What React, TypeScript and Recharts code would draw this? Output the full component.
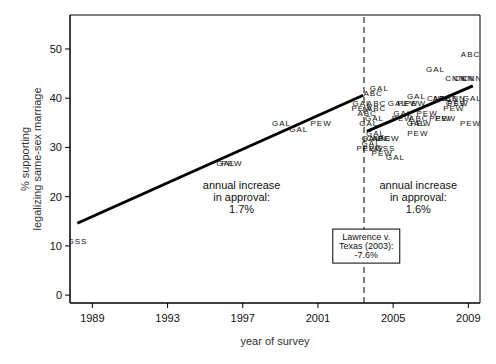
import React from 'react';
import {
  ScatterChart,
  Scatter,
  XAxis,
  YAxis,
  ReferenceLine,
  ReferenceArea,
  ReferenceDot,
} from 'recharts';

const FONT = '"Liberation Sans", Arial, sans-serif';

// Poll labels (pollster), survey year, % supporting
const pollLabels = [
  'GSS', 'GAL', 'PEW', 'GAL', 'GAL', 'PEW',
  'GAL', 'ABC', 'GAL', 'ABC', 'PEW', 'ABC', 'ABC', 'GAL', 'GAL', 'GAL',
  'GAL', 'CNN', 'ABC', 'PEW', 'GAL', 'PEW', 'PEW', 'GSS', 'PEW', 'GAL',
  'GAL', 'PEW', 'GAL', 'PEW', 'GAL', 'PEW', 'ABC', 'PEW', 'GAL', 'PEW', 'PEW', 'PEW', 'PEW',
  'GAL', 'CNN', 'CNN', 'CNN', 'ABC', 'CNN', 'ABC', 'CBS', 'CNN', 'GAL', 'GSS', 'PEW', 'PEW', 'PEW',
];
const pollYears = [
  1988.18, 1996.08, 1996.4, 1999.03, 1999.95, 2001.14,
  2004.24, 2003.91, 2003.32, 2004.09, 2003.32, 2004.09, 2003.59, 2003.98, 2003.68, 2004.03,
  2003.8, 2004.1, 2004.35, 2004.75, 2003.8, 2003.59, 2003.9, 2004.56, 2004.39, 2005.1,
  2005.19, 2005.75, 2006.21, 2006.16, 2005.49, 2005.46, 2006.34, 2006.78, 2006.2, 2006.45, 2006.29, 2007.46, 2007.76,
  2007.23, 2008.29, 2008.74, 2009.18, 2009.09, 2007.32, 2007.6, 2007.9, 2008.3, 2009.18, 2008.3, 2008.42, 2008.2, 2009.09,
];
const pollValues = [
  10.8, 26.8, 26.8, 34.8, 33.7, 34.8,
  41.9, 40.9, 38.9, 38.9, 37.9, 37.9, 36.8, 35.8, 34.8, 32.9,
  31.8, 31.8, 31.8, 31.8, 30.8, 29.7, 29.7, 29.7, 28.8, 27.9,
  38.9, 38.9, 40.4, 38.9, 36.8, 35.8, 35.8, 36.8, 34.8, 34.8, 32.8, 35.8, 35.8,
  45.8, 44.0, 44.0, 44.0, 48.8, 39.9, 39.9, 39.9, 39.9, 39.9, 38.9, 38.9, 37.9, 34.8,
];

// Fitted trend lines before and after Lawrence v. Texas
const fitBeforeYears = [1988.2, 2003.41];
const fitBeforeValues = [14.6, 40.6];
const fitAfterYears = [2003.6, 2009.24];
const fitAfterValues = [33.25, 42.5];

const xTicks = [1989, 1993, 1997, 2001, 2005, 2009];
const yTicks = [0, 10, 20, 30, 40, 50];
const xDomain: [number, number] = [1987.81, 2009.62];
const yDomain: [number, number] = [-1.6, 56.9];
const lawrenceYear = 2003.45;

const polls = pollLabels.map((label, i) => ({ x: pollYears[i], y: pollValues[i], label }));
const fitBefore = fitBeforeYears.map((x, i) => ({ x, y: fitBeforeValues[i] }));
const fitAfter = fitAfterYears.map((x, i) => ({ x, y: fitAfterValues[i] }));

const annotBefore = { x: 1996.94, y: 19.9, lines: ['annual increase', 'in approval:', '1.7%'] };
const annotAfter = { x: 2006.34, y: 19.9, lines: ['annual increase', 'in approval:', '1.6%'] };
const boxNote = { x: 2003.57, y: 9.96, lines: ['Lawrence v.', 'Texas (2003):', '-7.6%'] };

const PollLabel = (p: any) => {
  if (p.cx == null || p.cy == null) return <g />;
  return (
    <text
      x={p.cx + 0.5}
      y={p.cy}
      textAnchor="middle"
      dominantBaseline="central"
      fontSize={8}
      letterSpacing={1}
      fontFamily={FONT}
      fill="#111"
    >
      {p.payload.label}
    </text>
  );
};

const makeMultiline = (lines: string[]) => (p: any) => (
  <text x={p.cx} y={p.cy} textAnchor="middle" fontSize={11} fontFamily={FONT} fill="#111">
    {lines.map((l, i) => (
      <tspan key={i} x={p.cx} y={p.cy + (i - 1) * 12} dominantBaseline="central">
        {l}
      </tspan>
    ))}
  </text>
);

const BoxShape = (p: any) => {
  const w = 67;
  const h = 34;
  return (
    <g>
      <rect x={p.cx - w / 2} y={p.cy - h / 2} width={w} height={h} fill="#fff" stroke="#000" strokeWidth={1} />
      {boxNote.lines.map((l, i) => (
        <text
          key={i}
          x={p.cx}
          y={p.cy + (i - 1) * 9}
          textAnchor="middle"
          dominantBaseline="central"
          fontSize={9}
          fontFamily={FONT}
          fill="#111"
        >
          {l}
        </text>
      ))}
    </g>
  );
};

const YLabel = (props: any) => {
  const vb = props.viewBox || { x: 0, y: 15, width: 70, height: 288 };
  const cy = vb.y + vb.height / 2;
  return (
    <g>
      <text x={25} y={cy} transform={`rotate(-90, 25, ${cy})`} textAnchor="middle" dominantBaseline="central" fontSize={11} fontFamily={FONT} fill="#333">
        % supporting
      </text>
      <text x={37} y={cy} transform={`rotate(-90, 37, ${cy})`} textAnchor="middle" dominantBaseline="central" fontSize={11} fontFamily={FONT} fill="#333">
        legalizing same-sex marriage
      </text>
    </g>
  );
};

const None = () => <g />;

export default function App() {
  return (
    <div style={{ position: 'absolute', left: 0, top: 0, background: '#fff' }}>
      <ScatterChart width={496} height={364} margin={{ top: 15, right: 16, bottom: 0, left: 0 }}>
        <XAxis
          dataKey="x"
          type="number"
          domain={xDomain}
          allowDataOverflow
          ticks={xTicks}
          tickSize={5}
          tickMargin={6}
          height={61}
          tick={{ fontSize: 11, fontFamily: FONT, fill: '#111' }}
          axisLine={{ stroke: '#000' }}
          tickLine={{ stroke: '#000' }}
          label={{ value: 'year of survey', position: 'insideBottom', offset: 19, fontSize: 11, fontFamily: FONT, fill: '#333' }}
        />
        <YAxis
          dataKey="y"
          type="number"
          domain={yDomain}
          allowDataOverflow
          ticks={yTicks}
          tickSize={5}
          tickMargin={3}
          width={70}
          tick={{ fontSize: 11, fontFamily: FONT, fill: '#111' }}
          axisLine={{ stroke: '#000' }}
          tickLine={{ stroke: '#000' }}
          label={{ content: YLabel }}
        />
        <ReferenceArea
          x1={xDomain[0]}
          x2={xDomain[1]}
          y1={yDomain[0]}
          y2={yDomain[1]}
          fill="none"
          fillOpacity={0}
          stroke="#000"
          strokeWidth={1}
          ifOverflow="visible"
        />
        <ReferenceLine x={lawrenceYear} stroke="#000" strokeDasharray="6 4" strokeWidth={1} />
        <Scatter data={fitBefore} line={{ stroke: '#000', strokeWidth: 3 }} shape={None} isAnimationActive={false} />
        <Scatter data={fitAfter} line={{ stroke: '#000', strokeWidth: 3 }} shape={None} isAnimationActive={false} />
        <Scatter data={polls} shape={PollLabel} isAnimationActive={false} />
        <ReferenceDot x={annotBefore.x} y={annotBefore.y} shape={makeMultiline(annotBefore.lines)} />
        <ReferenceDot x={annotAfter.x} y={annotAfter.y} shape={makeMultiline(annotAfter.lines)} />
        <ReferenceDot x={boxNote.x} y={boxNote.y} shape={BoxShape} />
      </ScatterChart>
    </div>
  );
}
